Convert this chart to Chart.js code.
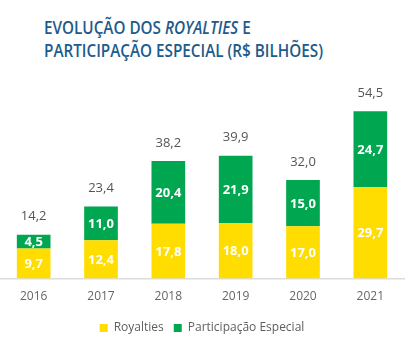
<!DOCTYPE html>
<html>
<head>
<meta charset="utf-8">
<script src="https://cdn.jsdelivr.net/npm/chart.js@4.4.1/dist/chart.umd.min.js"></script>
<style>
  html, body { margin: 0; padding: 0; background: #fff; }
  #wrap { position: relative; width: 420px; height: 344px; overflow: hidden; }
  #title {
    position: absolute; left: 44px; top: 16px;
    font-family: "Open Sans", Roboto, sans-serif;
    font-size: 18px; line-height: 23px; font-weight: 600; color: #1d5b8c;
    white-space: nowrap; transform-origin: 0 0;
  }
  #title .l { display: block; }
  canvas { position: absolute; left: 0; top: 0; }
</style>
</head>
<body>
<div id="wrap">
  <div id="title"><span class="l" id="t1">EVOLUÇÃO DOS <i>ROYALTIES</i> E</span><span class="l" id="t2">PARTICIPAÇÃO ESPECIAL (R$ BILHÕES)</span></div>
  <canvas id="c" width="420" height="344"></canvas>
</div>
<script>
const years = ["2016", "2017", "2018", "2019", "2020", "2021"];
const royalties = [9.7, 12.4, 17.8, 18.0, 17.0, 29.7];
const participacao = [4.5, 11.0, 20.4, 21.9, 15.0, 24.7];
const totals = [14.2, 23.4, 38.2, 39.9, 32.0, 54.5];
const seriesNames = ["Royalties", "Participação Especial"];

const YELLOW = "#FFDD00";
const GREEN = "#00A650";
const NUMFONT = '"Open Sans", "Noto Sans", sans-serif';

// fit title line 2 to reference width
(function () {
  const t2 = document.getElementById("t2");
  const w = t2.getBoundingClientRect().width;
  const target = 279;
  document.getElementById("title").style.transform = "scaleX(" + (target / w) + ")";
})();

const fmt = v => v.toFixed(1).replace(".", ",");

const labelPlugin = {
  id: "barLabels",
  afterDatasetsDraw(chart) {
    const ctx = chart.ctx;
    ctx.save();
    ctx.textAlign = "center";
    ctx.textBaseline = "middle";
    chart.data.datasets.forEach((ds, di) => {
      const meta = chart.getDatasetMeta(di);
      meta.data.forEach((bar, i) => {
        const top = Math.min(bar.y, bar.base);
        const bot = Math.max(bar.y, bar.base);
        ctx.fillStyle = "#ffffff";
        ctx.font = "bold 13px " + NUMFONT;
        ctx.fillText(fmt(ds.data[i]), bar.x, (top + bot) / 2 + 1);
      });
    });
    const lastMeta = chart.getDatasetMeta(chart.data.datasets.length - 1);
    lastMeta.data.forEach((bar, i) => {
      ctx.fillStyle = "#555555";
      ctx.font = "13px " + NUMFONT;
      ctx.fillText(fmt(totals[i]), bar.x, Math.min(bar.y, bar.base) - 18);
    });
    ctx.restore();
  }
};

new Chart(document.getElementById("c"), {
  type: "bar",
  data: {
    labels: years,
    datasets: [
      { label: seriesNames[0], data: royalties, backgroundColor: YELLOW, stack: "s" },
      { label: seriesNames[1], data: participacao, backgroundColor: GREEN, stack: "s" }
    ]
  },
  options: {
    responsive: false,
    animation: false,
    devicePixelRatio: 1,
    layout: { padding: { top: 94, left: 0, right: 16, bottom: 0 } },
    datasets: { bar: { barPercentage: 0.5, categoryPercentage: 1.0 } },
    scales: {
      x: {
        stacked: true,
        grid: { display: false, drawTicks: false },
        border: { display: true, color: "#dcdcdc", width: 1.5 },
        ticks: { color: "#666666", font: { family: NUMFONT, size: 12 }, padding: 11 },
        afterFit: (axis) => { axis.height = 33.6; }
      },
      y: {
        stacked: true, display: false, min: 0, max: 60
      }
    },
    plugins: {
      legend: {
        position: "bottom",
        labels: {
          boxWidth: 8, boxHeight: 8, padding: 10, color: "#5e5e5e",
          font: { family: NUMFONT, size: 12 }
        }
      },
      tooltip: { enabled: false },
      title: { display: false }
    }
  },
  plugins: [labelPlugin]
});
</script>
</body>
</html>
